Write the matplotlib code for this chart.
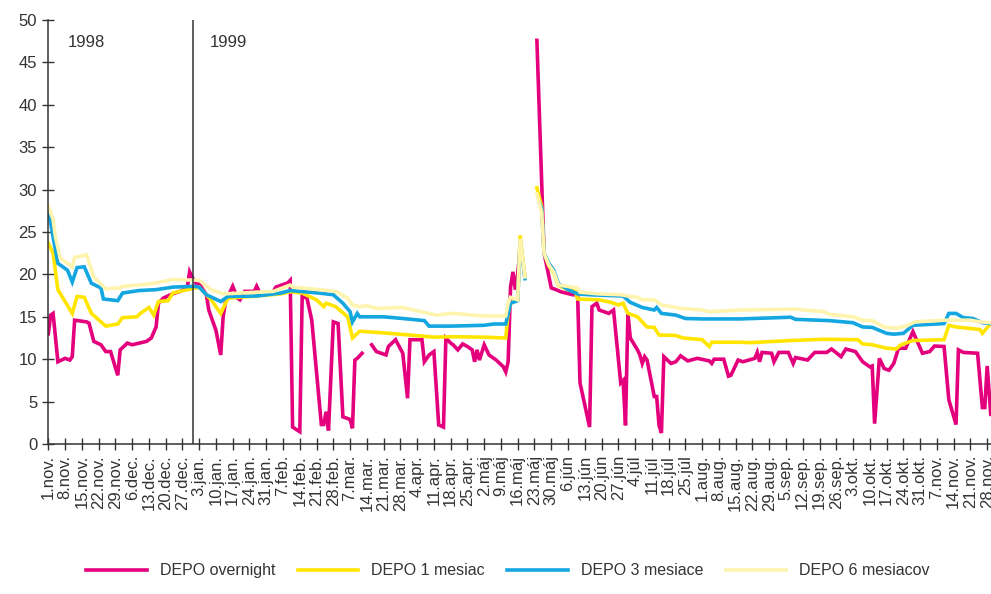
import numpy as np
import pandas as pd
import matplotlib
matplotlib.use('Agg')
import matplotlib.pyplot as plt

plt.rcParams['font.family'] = ['Liberation Sans', 'DejaVu Sans']

nan = np.nan
start = pd.Timestamp('1998-11-01')

# days since 1.nov.1998, values in %
over_days = [0, 1, 2, 4, 7, 9, 10, 11, 16, 17, 19, 22, 24, 26, 29, 30, 33, 35, 38, 41,
             43, 45, 46, 48, 51, 55, 58, 59, 60, 62, 63, 66, 67, 70, 72, 73, 74, 77, 79, 80,
             82, 86, 87, 88, 90, 94, 95, 100, 101, 102, 105, 106, 108, 110, 114, 115, 116, 117, 119, 121,
             123, 126, 127, 128, 129, 131, 133, 135, 137, 141, 142, 145, 148, 150, 151, 156, 157, 159, 161, 163,
             165, 166, 168, 169, 171, 173, 175, 177, 178, 179, 180, 182, 184, 187, 190, 191, 192, 193, 194, 195,
             196, 197, 200, 204, 207, 210, 212, 214, 219, 221, 222, 226, 227, 229, 230, 232, 234, 236, 239, 240,
             241, 242, 243, 246, 247, 248, 249, 250, 253, 254, 255, 256, 257, 260, 262, 264, 267, 271, 276, 277,
             278, 282, 284, 285, 288, 290, 295, 296, 297, 298, 302, 303, 305, 309, 311, 312, 317, 320, 325, 327,
             331, 333, 337, 340, 343, 344, 345, 347, 349, 351, 353, 355, 358, 361, 365, 368, 370, 374, 376, 379,
             380, 382, 388, 390, 391, 392, 393.5]
over_vals = [13.0, 15.2, 15.4, 9.7, 10.1, 9.9, 10.3, 14.6, 14.4, 14.25, 12.1, 11.7, 10.9, 10.9, 8.1, 11.1, 11.9, 11.7, 11.9, 12.1,
             12.5, 13.8, 16.6, 17.2, 17.6, 18.0, 18.4, 20.3, 19.7, 18.8, 18.9, 17.6, 15.8, 13.4, 10.5, 15.0, 16.8, 18.6, 17.2, 17.0,
             18.0, 18.0, 18.6, 18.0, nan, 18.0, 18.5, 19.0, 19.3, 2.0, 1.45, 17.4, 17.2, 14.6, 2.3, 2.3, 3.8, 1.6, 14.4, 14.2,
             3.2, 2.9, 1.85, 9.9, 10.1, 10.7, nan, 11.7, 10.9, 10.5, 11.5, 12.3, 10.7, 5.4, 12.3, 12.3, 9.7, 10.5, 10.9, 2.25,
             2.0, 12.5, 11.9, 11.7, 11.1, 11.8, 11.5, 11.1, 9.7, 11.1, 9.9, 11.7, 10.5, 9.9, 9.1, 8.5, 9.7, 18.5, 20.3, 18.2,
             20.1, 22.9, nan, 47.6, 22.5, 18.4, 18.2, 17.95, 17.6, 17.6, 7.2, 2.0, 16.2, 16.6, 15.8, 15.6, 15.4, 15.8, 7.2, 7.5,
             2.2, 15.4, 12.5, 11.1, 10.5, 9.5, 10.3, 9.9, 5.6, 5.6, 2.2, 1.3, 10.3, 9.5, 9.7, 10.4, 9.8, 10.1, 9.8, 9.5,
             10.0, 10.0, 8.0, 8.1, 9.9, 9.7, 10.1, 10.8, 9.7, 10.8, 10.7, 9.7, 10.8, 10.8, 9.5, 10.2, 9.9, 10.8, 10.8, 11.2,
             10.3, 11.2, 10.9, 9.7, 9.1, 9.2, 2.4, 10.1, 8.9, 8.7, 9.5, 11.3, 11.3, 13.25, 10.7, 10.9, 11.55, 11.5, 5.2, 2.3,
             11.1, 10.8, 10.7, 4.3, 4.3, 9.2, 3.5]

m1_days = [0, 2, 4, 10, 12, 15, 18, 22, 24, 29, 31, 37, 38, 42, 44, 46, 50, 52, 58, 63,
           68, 72, 75, 87, 97, 101, 106, 112, 115, 116, 120, 125, 127, 130, 140, 151, 161, 168, 182, 191,
           192, 193, 196, 197, 199, 201, 204, 206, 207, 209, 211, 213, 217, 220, 221, 230, 235, 238, 240, 242,
           246, 250, 253, 255, 262, 265, 273, 276, 277, 289, 293, 310, 324, 338, 340, 344, 350, 354, 356, 361,
           374, 376, 379, 389, 390, 393.5]
m1_vals = [23.7, 22.5, 18.2, 15.4, 17.4, 17.3, 15.4, 14.4, 13.9, 14.15, 14.9, 15.0, 15.3, 16.1, 15.2, 16.8, 16.9, 17.8, 18.2, 18.5,
           17.0, 15.4, 17.2, 17.45, 17.7, 17.95, 17.8, 17.0, 16.2, 16.6, 16.2, 15.0, 12.5, 13.3, 13.1, 12.85, 12.6, 12.65, 12.6, 12.5,
           15.4, 16.6, 17.0, 24.6, 19.7, nan, 30.2, 28.0, 22.5, 21.0, 20.2, 18.7, 18.2, 18.0, 17.1, 17.0, 16.7, 16.4, 16.6, 15.4,
           15.0, 13.8, 13.75, 12.85, 12.8, 12.5, 12.3, 11.5, 12.0, 12.0, 11.95, 12.2, 12.35, 12.3, 11.8, 11.7, 11.3, 11.2, 11.7, 12.2,
           12.3, 14.0, 13.8, 13.5, 13.05, 14.2]

m3_days = [0, 2, 4, 8, 10, 12, 15, 18, 22, 23, 29, 31, 38, 45, 52, 61, 63, 66, 72, 75,
           87, 97, 101, 113, 119, 123, 126, 127, 129, 130, 140, 148, 157, 159, 168, 182, 186, 191, 193, 196,
           197, 199, 201, 205, 206, 207, 209, 211, 213, 217, 221, 226, 240, 243, 248, 253, 254, 256, 262, 266,
           273, 289, 310, 312, 326, 336, 340, 344, 350, 353, 357, 361, 374, 376, 379, 382, 386, 390, 393.5]
m3_vals = [27.7, 24.4, 21.3, 20.5, 19.1, 20.8, 20.9, 18.95, 18.4, 17.1, 16.9, 17.8, 18.1, 18.2, 18.5, 18.6, 18.5, 17.6, 16.8, 17.4,
           17.45, 17.8, 18.1, 17.8, 17.6, 16.6, 15.6, 14.4, 15.4, 15.0, 15.0, 14.8, 14.55, 13.9, 13.9, 14.0, 14.15, 14.15, 16.6, 16.9,
           23.9, 19.5, nan, 28.5, 27.8, 22.5, 21.3, 20.5, 18.9, 18.2, 17.7, 17.6, 17.45, 16.7, 16.1, 15.8, 16.1, 15.4, 15.2, 14.8,
           14.75, 14.75, 14.95, 14.7, 14.55, 14.3, 13.8, 13.75, 13.05, 12.95, 13.05, 14.0, 14.2, 15.4, 15.4, 14.9, 14.8, 14.3, 14.2]

m6_days = [0, 2, 3, 5, 10, 11, 16, 19, 24, 30, 31, 38, 45, 52, 63, 68, 73, 80, 94, 101,
           102, 106, 113, 120, 125, 127, 130, 133, 137, 148, 154, 162, 168, 173, 182, 191, 192, 193, 196, 197,
           199, 201, 204, 206, 207, 209, 211, 213, 221, 222, 230, 239, 242, 246, 248, 253, 256, 264, 273, 276,
           289, 312, 324, 326, 336, 340, 344, 349, 354, 358, 362, 374, 385, 389, 393.5]
m6_vals = [28.0, 26.5, 24.4, 21.9, 20.9, 22.0, 22.3, 19.7, 18.3, 18.4, 18.6, 18.75, 19.0, 19.4, 19.3, 18.2, 17.7, 17.8, 18.0, 18.75,
           18.5, 18.4, 18.2, 18.0, 17.2, 16.4, 16.2, 16.3, 16.0, 16.1, 15.7, 15.2, 15.4, 15.3, 15.1, 15.1, 16.6, 17.3, 17.0, 24.2,
           19.7, nan, 29.5, 27.3, 22.5, 21.1, 20.3, 18.75, 18.4, 17.9, 17.7, 17.6, 17.45, 17.3, 17.0, 17.0, 16.4, 16.0, 15.8, 15.6,
           15.8, 15.9, 15.6, 15.3, 15.0, 14.6, 14.55, 13.8, 13.65, 13.9, 14.4, 14.6, 14.6, 14.4, 14.3]

series = [
    ('DEPO overnight', over_days, over_vals, '#e4007d'),
    ('DEPO 1 mesiac', m1_days, m1_vals, '#ffe500'),
    ('DEPO 3 mesiace', m3_days, m3_vals, '#14a6e1'),
    ('DEPO 6 mesiacov', m6_days, m6_vals, '#fff4ae'),
]

months = {1: 'jan.', 2: 'feb.', 3: 'mar.', 4: 'apr.', 5: 'máj', 6: 'jún',
          7: 'júl', 8: 'aug.', 9: 'sep.', 10: 'okt.', 11: 'nov.', 12: 'dec.'}

fig = plt.figure(figsize=(9.91, 5.94), dpi=100)
ax = fig.add_axes([48.3 / 991, 1 - 444 / 594, 1 - 48.3 / 991, (444 - 20) / 594])

for name, d, v, c in series:
    x = start + pd.to_timedelta(np.array(d, dtype=float), unit='D')
    ax.plot(x, v, color=c, lw=2.6, label=name, solid_joinstyle='miter')

ax.set_ylim(0, 50)
ax.set_yticks(np.arange(0, 51, 5))
ax.set_xlim(start, start + pd.Timedelta(days=393.6))

ticks = pd.date_range('1998-11-01', '1999-11-28', freq='7D')
ax.set_xticks(ticks)
ax.set_xticklabels([f'{t.day}.{months[t.month]}' for t in ticks], rotation=90)

# year divider
ax.axvline(pd.Timestamp('1998-12-31 12:00'), color='#333333', lw=1.1)
ax.text(start + pd.Timedelta(days=8.2), 47.3, '1998', fontsize=12, color='#333333', va='center')
ax.text(start + pd.Timedelta(days=67.4), 47.3, '1999', fontsize=12, color='#333333', va='center')

for s in ['top', 'right']:
    ax.spines[s].set_visible(False)
for s in ['left', 'bottom']:
    ax.spines[s].set_color('#333333')
    ax.spines[s].set_linewidth(1.1)
ax.tick_params(direction='inout', length=9, width=1.0, color='#333333',
               labelsize=12, labelcolor='#333333')

fig.legend(loc='center', bbox_to_anchor=(508 / 991, 0.039), ncol=4, frameon=False,
           fontsize=11.5, handlelength=3.8, handletextpad=0.8, columnspacing=1.4,
           labelcolor='#333333')

fig.savefig('out.png', dpi=100)
